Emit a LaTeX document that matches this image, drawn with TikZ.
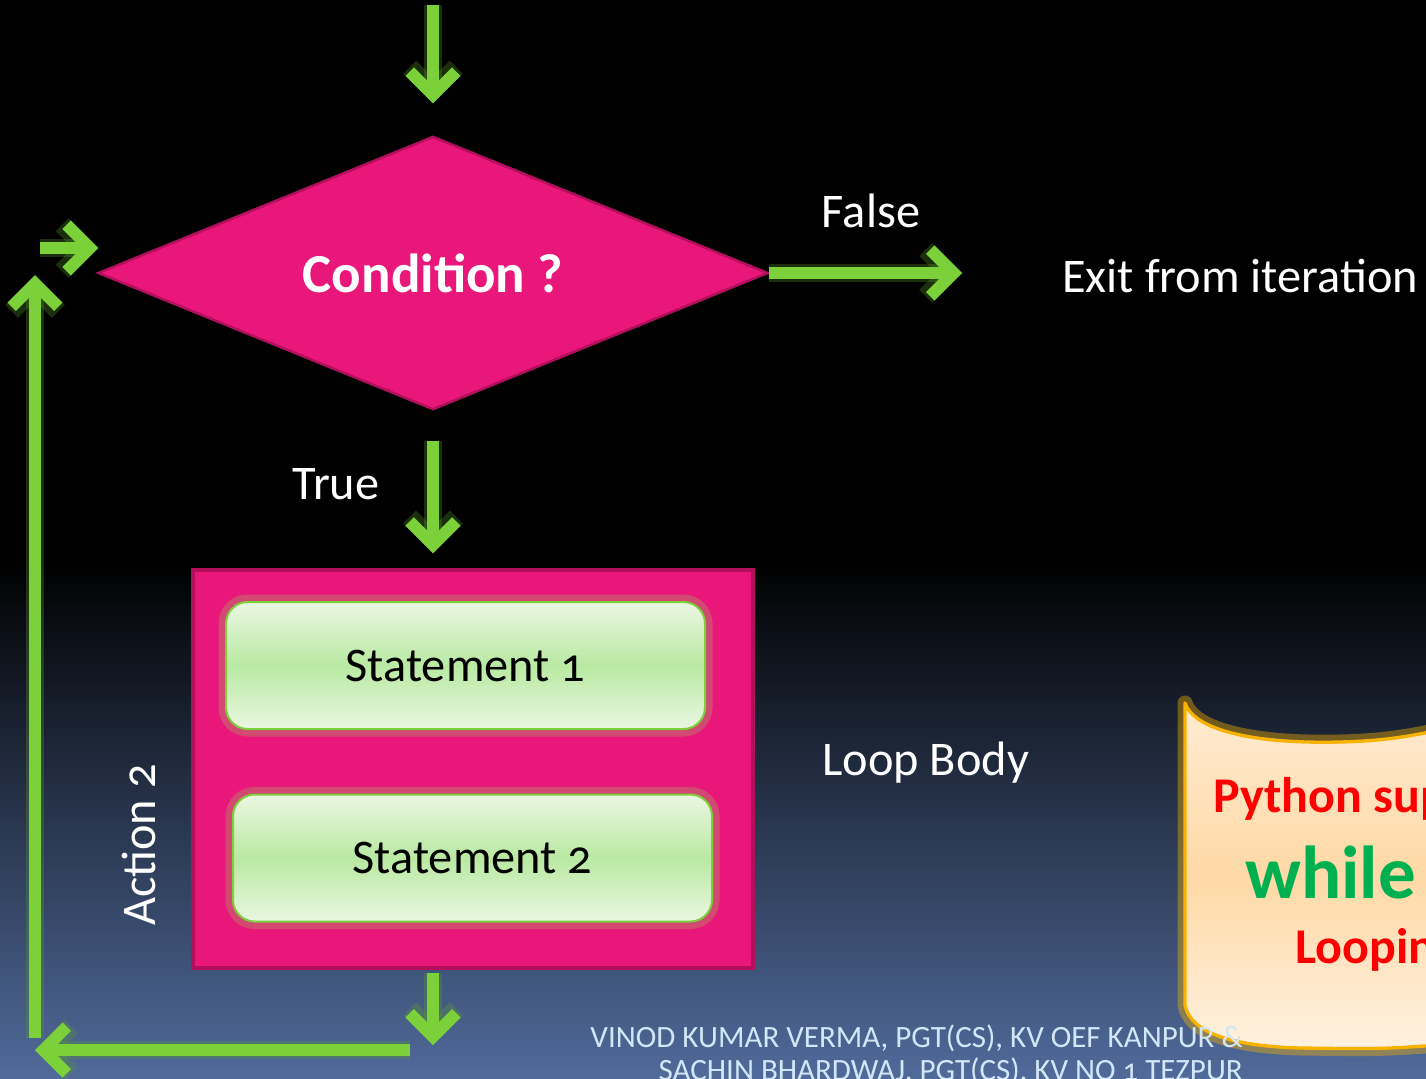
\documentclass[tikz,border=0pt]{standalone}
\usepackage{fontspec}
\setmainfont{Carlito}[Numbers=OldStyle]
\usetikzlibrary{arrows.meta,shapes.geometric,positioning}

\definecolor{bgblue}{HTML}{506A9A}
\definecolor{flowgreen}{HTML}{7CD13A}
\definecolor{glowgreen}{HTML}{5A9E2A}
\definecolor{hotpink}{HTML}{E9177A}
\definecolor{darkpink}{HTML}{B30F5C}
\definecolor{glowtan}{HTML}{B8866A}
\definecolor{paleg}{HTML}{EAF7E2}
\definecolor{midg}{HTML}{B9E9A2}
\definecolor{peachtop}{HTML}{FFEBD2}
\definecolor{peachmid}{HTML}{FFD9A6}
\definecolor{peachbot}{HTML}{FFF1E0}
\definecolor{scrollorange}{HTML}{F7B300}
\definecolor{footblue}{HTML}{D2E6F8}
\definecolor{pyred}{HTML}{FF0000}
\definecolor{whilegreen}{HTML}{00B050}

\tikzset{
  flow/.style={draw=flowgreen, line width=7.2pt,
    -{Straight Barb[length=14pt,width=28pt]},
    preaction={draw=glowgreen, line width=11pt, opacity=0.3, line join=round,
      -{Straight Barb[length=14pt,width=28pt]}}},
  lbl/.style={text=white, inner sep=0pt, font=\fontsize{29}{34}\selectfont},
  cond/.style={diamond, aspect=2.45, fill=hotpink, draw=darkpink, line width=1.5pt,
    minimum width=402pt, minimum height=164pt, inner sep=0pt,
    text=white, font=\bfseries\fontsize{33}{38}\selectfont},
  loopbox/.style={rectangle, fill=hotpink, draw=darkpink, line width=2pt,
    minimum width=336pt, minimum height=238.8pt},
  stmt/.style={rectangle, rounded corners=13pt, top color=paleg, bottom color=paleg,
    middle color=midg, draw=flowgreen, line width=1.2pt,
    minimum width=287.4pt, minimum height=76.2pt, text=black,
    font=\fontsize{29}{34}\selectfont,
    preaction={draw=glowtan, line width=9pt, opacity=0.45, rounded corners=13pt}},
  scroll/.style={top color=peachtop, bottom color=peachbot, middle color=peachmid,
    draw=scrollorange, line width=2pt, line join=round,
    preaction={draw=scrollorange, line width=9pt, opacity=0.4, line join=round}},
  foot/.style={text=footblue, inner sep=0pt, font=\fontsize{18.6}{22}\selectfont},
  scrolltxt/.style={inner sep=0pt, font=\bfseries\fontsize{30}{36}\selectfont}
}

\begin{document}
\begin{tikzpicture}[x=0.6pt,y=-0.6pt]
\clip (0,0) rectangle (1426,1078);
\fill[black] (0,0) rectangle (1426,560);
\shade[top color=black, bottom color=bgblue] (0,559) rectangle (1426,1078);

\path[scroll] (1185,703) .. controls (1195,732) and (1260,744) .. (1340,742)
  .. controls (1385,741) and (1410,736) .. (1440,730) -- (1440,1045)
  .. controls (1380,1049) .. (1300,1048)
  .. controls (1230,1046) and (1190,1032) .. (1185,1005) -- cycle;
\node[scrolltxt, text=pyred, anchor=base west] (py) at (1213,812) {Python sup};
\node[scrolltxt, text=whilegreen, anchor=base west, font=\bfseries\fontsize{45}{50}\selectfont]
  (wh) at (1245,898) {while};
\node[scrolltxt, text=pyred, anchor=base west] (lp) at (1295,963) {Loopin};

\node[foot, anchor=base east] (foot1) at (1243,1047) {VINOD KUMAR VERMA, PGT(CS), KV OEF KANPUR \&};
\node[foot, anchor=base east] (foot2) at (1243,1080) {SACHIN BHARDWAJ, PGT(CS), KV NO 1 TEZPUR};

\node[cond] (cond) at (433,273) {Condition ?};
\node[loopbox] (body) at (473,769) {};
\node[stmt] (st1) at (465.5,665.5) {Statement 1};
\node[stmt] (st2) at (472.5,858) {Statement 2};

\node[lbl, anchor=base] (false) at (871,227) {False};
\node[lbl, anchor=base west] (exit) at (1062,292) {Exit from iteration};
\node[lbl, anchor=base] (true) at (336,499) {True};
\node[lbl, anchor=base west] (loop) at (822,775) {Loop Body};
\node[lbl, rotate=90] (action) at (139,845) {Action 2};

\coordinate (topin) at (433,5);
\coordinate (loopdown) at (433,1045);
\coordinate (backstart) at (410,1050);
\coordinate (backend) at (35,1050);
\coordinate (upstart) at (35,1038);
\coordinate (upend) at (35,275);
\coordinate (instart) at (40,248);

\draw[flow, shorten >=19pt] (topin) -- (cond.north);
\draw[flow, shorten >=60pt] (cond.east) -- (cond.east -| exit.west);
\draw[flow, shorten <=18pt, shorten >=9pt] (cond.south) -- (body.north -| cond.south);
\draw[flow, shorten <=2pt] (body.south -| cond.south) -- (loopdown);
\draw[flow] (backstart) -- (backend);
\draw[flow] (upstart) -- (upend);
\draw[flow] (instart) -- ([xshift=1pt]instart -| cond.west);
\end{tikzpicture}
\end{document}
